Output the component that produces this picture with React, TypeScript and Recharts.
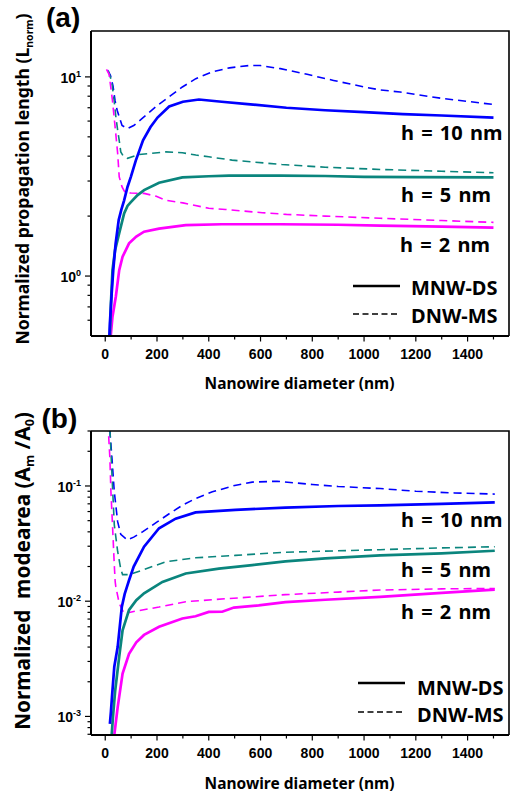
import React from 'react';
import { LineChart, Line, XAxis, YAxis } from 'recharts';

// ---------- Panel (a): normalized propagation length ----------
const aBlueSolidD = [16, 18, 25, 31, 40, 52, 62, 73, 86, 99, 118, 146, 175, 202, 247, 300, 362, 450, 550, 700, 850, 1000, 1150, 1300, 1500];
const aBlueSolidV = [0.5, 0.58, 0.82, 1.07, 1.45, 1.91, 2.15, 2.4, 2.8, 3.15, 3.8, 4.8, 5.6, 6.25, 7.1, 7.5, 7.7, 7.5, 7.3, 7.0, 6.8, 6.65, 6.5, 6.4, 6.25];
const aBlueDashD = [9, 20, 30, 38, 46, 54, 65, 86, 110, 144, 202, 250, 298, 350, 414, 480, 555, 600, 677, 780, 882, 1000, 1062, 1139, 1300, 1500];
const aBlueDashV = [10.8, 10.2, 9.0, 7.6, 6.8, 6.3, 5.7, 5.5, 5.7, 6.2, 7.2, 8.0, 8.9, 9.8, 10.6, 11.1, 11.4, 11.4, 11.0, 10.3, 9.6, 8.9, 8.6, 8.4, 7.8, 7.27];
const aTealSolidD = [18, 22, 28, 38, 54, 73, 86, 99, 125, 150, 208, 298, 400, 478, 677, 850, 1000, 1200, 1500];
const aTealSolidV = [0.5, 0.73, 1.07, 1.35, 1.64, 2.06, 2.25, 2.35, 2.55, 2.7, 2.94, 3.13, 3.17, 3.19, 3.19, 3.18, 3.15, 3.14, 3.13];
const aTealDashD = [12, 25, 35, 41, 48, 54, 60, 70, 86, 131, 234, 298, 350, 400, 490, 683, 850, 1062, 1300, 1500];
const aTealDashV = [10.7, 9.5, 7.5, 6.3, 5.4, 4.8, 4.2, 4.0, 3.9, 4.08, 4.2, 4.16, 4.05, 3.97, 3.82, 3.63, 3.52, 3.43, 3.36, 3.3];
const aPinkSolidD = [20, 28, 41, 54, 67, 92, 120, 150, 208, 311, 450, 677, 900, 1062, 1300, 1500];
const aPinkSolidV = [0.48, 0.625, 0.79, 1.07, 1.25, 1.46, 1.58, 1.67, 1.73, 1.8, 1.82, 1.82, 1.81, 1.79, 1.77, 1.75];
const aPinkDashD = [5, 15, 28, 40, 48, 54, 65, 77, 100, 150, 195, 235, 300, 400, 465, 607, 700, 850, 1062, 1300, 1500];
const aPinkDashV = [10.9, 10.3, 7.6, 5.3, 4.13, 3.15, 2.8, 2.62, 2.61, 2.6, 2.52, 2.4, 2.33, 2.19, 2.16, 2.08, 2.04, 2.0, 1.95, 1.9, 1.86];

// ---------- Panel (b): normalized mode area ----------
const bBlueSolidD = [18, 22, 26, 35, 48, 64, 75, 86, 92, 110, 150, 208, 272, 349, 503, 696, 900, 1062, 1300, 1505];
const bBlueSolidV = [8.6e-4, 1.1e-3, 1.47e-3, 2.7e-3, 4.0e-3, 8.9e-3, 0.0115, 0.0138, 0.0152, 0.02, 0.0297, 0.043, 0.052, 0.059, 0.062, 0.065, 0.067, 0.068, 0.07, 0.072];
const bBlueDashD = [17, 19, 26, 35, 48, 60, 86, 110, 144, 202, 250, 298, 350, 414, 500, 568, 664, 800, 900, 1062, 1200, 1350, 1505];
const bBlueDashV = [0.4, 0.28, 0.174, 0.089, 0.049, 0.038, 0.034, 0.036, 0.04, 0.049, 0.058, 0.068, 0.078, 0.089, 0.101, 0.108, 0.11, 0.103, 0.099, 0.095, 0.09, 0.087, 0.085];
const bTealSolidD = [24, 30, 38.5, 54, 67, 92, 120, 150, 221, 311, 439, 568, 696, 850, 1062, 1300, 1505];
const bTealSolidV = [6.5e-4, 1.0e-3, 1.68e-3, 3.3e-3, 5.6e-3, 8.4e-3, 0.0102, 0.0117, 0.0147, 0.0174, 0.0192, 0.0206, 0.0222, 0.0235, 0.025, 0.026, 0.0274];
const bTealDashD = [15, 20, 28, 35, 48, 60, 67, 92, 144, 234, 349, 503, 683, 850, 1062, 1300, 1505];
const bTealDashV = [0.4, 0.25, 0.1, 0.046, 0.027, 0.019, 0.017, 0.017, 0.0186, 0.022, 0.0238, 0.025, 0.0265, 0.0272, 0.028, 0.029, 0.0297];
const bPinkSolidD = [33, 35, 48, 67, 92, 120, 150, 208, 298, 349, 400, 452, 497, 593, 696, 850, 1062, 1300, 1505];
const bPinkSolidV = [6.0e-4, 6.9e-4, 1.2e-3, 2.35e-3, 3.5e-3, 4.4e-3, 5.1e-3, 6.0e-3, 7.08e-3, 7.4e-3, 8.07e-3, 8.1e-3, 8.8e-3, 9.2e-3, 9.8e-3, 0.0103, 0.0109, 0.0118, 0.0126];
const bPinkDashD = [8, 13, 18, 22, 28, 35, 38.5, 41, 54, 73, 118, 208, 311, 465, 696, 900, 1062, 1300, 1505];
const bPinkDashV = [0.35, 0.277, 0.174, 0.089, 0.046, 0.0206, 0.0147, 0.0133, 0.0096, 0.0078, 0.0082, 0.0089, 0.0099, 0.0105, 0.0114, 0.012, 0.0125, 0.0128, 0.0129];

// ---------- Axes ----------
const xTicks = [0, 100, 200, 300, 400, 500, 600, 700, 800, 900, 1000, 1100, 1200, 1300, 1400, 1500];
const aYTicks = [0.6, 0.7, 0.8, 0.9, 1, 2, 3, 4, 5, 6, 7, 8, 9, 10];
const bYTicks = [7e-4, 8e-4, 9e-4, 1e-3, 2e-3, 3e-3, 4e-3, 5e-3, 6e-3, 7e-3, 8e-3, 9e-3, 0.01, 0.02, 0.03, 0.04, 0.05, 0.06, 0.07, 0.08, 0.09, 0.1, 0.2, 0.3];
const aYDomain = [0.5, 17];
const bYDomain = [6.9e-4, 0.3];
const xDomain = [-55, 1560];

const BLUE = '#0000ff';
const TEAL = '#0a857d';
const PINK = '#ff00ff';
const TXT = "'Noto Sans', 'Open Sans', sans-serif";
const TICKF = "'Liberation Sans', Arial, sans-serif";

const zip = (d: number[], v: number[]) => d.map((x, i) => ({ d: x, v: v[i] }));

const aSeries = [
  { data: zip(aBlueDashD, aBlueDashV), color: BLUE, dashed: true },
  { data: zip(aTealDashD, aTealDashV), color: TEAL, dashed: true },
  { data: zip(aPinkDashD, aPinkDashV), color: PINK, dashed: true },
  { data: zip(aPinkSolidD, aPinkSolidV), color: PINK, dashed: false },
  { data: zip(aTealSolidD, aTealSolidV), color: TEAL, dashed: false },
  { data: zip(aBlueSolidD, aBlueSolidV), color: BLUE, dashed: false },
];
const bSeries = [
  { data: zip(bBlueDashD, bBlueDashV), color: BLUE, dashed: true },
  { data: zip(bTealDashD, bTealDashV), color: TEAL, dashed: true },
  { data: zip(bPinkDashD, bPinkDashV), color: PINK, dashed: true },
  { data: zip(bPinkSolidD, bPinkSolidV), color: PINK, dashed: false },
  { data: zip(bTealSolidD, bTealSolidV), color: TEAL, dashed: false },
  { data: zip(bBlueSolidD, bBlueSolidV), color: BLUE, dashed: false },
];

const XTick = (p: any) => {
  const { x, y, payload } = p;
  const v = payload.value;
  const major = v % 200 === 0;
  return (
    <g>
      <line x1={x} x2={x} y1={y} y2={y + (major ? 5.5 : 3.5)} stroke="#000" strokeWidth={1.2} />
      {major && (
        <text x={x} y={y + 22.5} textAnchor="middle" fontFamily={TICKF} fontWeight="bold" fontSize={14} fill="#000">
          {v}
        </text>
      )}
    </g>
  );
};

const YTick = (p: any) => {
  const { x, y, payload } = p;
  const v = payload.value;
  const lg = Math.log10(v);
  const e = Math.round(lg);
  const major = Math.abs(lg - e) < 1e-6;
  return (
    <g>
      <line x1={x - (major ? 6 : 3.5)} x2={x} y1={y} y2={y} stroke="#000" strokeWidth={1.2} />
      {major && (
        <text x={x - 10} y={y + 6} textAnchor="end" fontFamily={TICKF} fontWeight="bold" fontSize={14} fill="#000">
          10<tspan dy={-6} fontSize={9}>{String(e)}</tspan>
        </text>
      )}
    </g>
  );
};

function Panel({ top, series, yDomain, yTicks, marginTop, xAxisHeight }: any) {
  return (
    <div style={{ position: 'absolute', left: 0, top, width: 513, height: 398 }}>
      <LineChart width={513} height={398} margin={{ top: marginTop, right: 4, bottom: 0, left: 0 }}>
        <XAxis
          dataKey="d"
          type="number"
          domain={xDomain}
          allowDataOverflow
          ticks={xTicks}
          interval={0}
          tick={(p: any) => <XTick {...p} />}
          tickLine={false}
          tickSize={0}
          tickMargin={0}
          height={xAxisHeight}
          axisLine={{ stroke: '#000', strokeWidth: 2 }}
        />
        <YAxis
          type="number"
          scale="log"
          domain={yDomain}
          allowDataOverflow
          ticks={yTicks}
          interval={0}
          tick={(p: any) => <YTick {...p} />}
          tickLine={false}
          tickSize={0}
          tickMargin={0}
          width={91}
          axisLine={{ stroke: '#000', strokeWidth: 2 }}
        />
        {series.map((s: any, i: number) => (
          <Line
            key={i}
            data={s.data}
            dataKey="v"
            type="linear"
            stroke={s.color}
            strokeWidth={s.dashed ? 1.6 : 2.7}
            strokeDasharray={s.dashed ? '8 5' : undefined}
            dot={false}
            activeDot={false}
            isAnimationActive={false}
          />
        ))}
      </LineChart>
    </div>
  );
}

export default function App() {
  const t = { fontFamily: TXT, fontWeight: 'bold' as const, fill: '#000' };
  return (
    <div style={{ position: 'absolute', left: 0, top: 0, width: 513, height: 796, background: '#fff' }}>
      <Panel top={0} series={aSeries} yDomain={aYDomain} yTicks={aYTicks} marginTop={31} xAxisHeight={62} />
      <Panel top={398} series={bSeries} yDomain={bYDomain} yTicks={bYTicks} marginTop={33} xAxisHeight={61} />
      <svg width={513} height={796} style={{ position: 'absolute', left: 0, top: 0, pointerEvents: 'none' }}>
        {/* plot frames (top / right borders) */}
        <polyline points="91,31 509,31 509,336" fill="none" stroke="#000" strokeWidth={1.6} />
        <polyline points="91,431 509,431 509,735" fill="none" stroke="#000" strokeWidth={1.6} />

        {/* titles */}
        <text x={46} y={26.5} fontFamily={TICKF} fontWeight="bold" fontSize={28} fill="#000">(a)</text>
        <text x={41.5} y={428} fontFamily={TICKF} fontWeight="bold" fontSize={28} fill="#000">(b)</text>

        {/* axis titles */}
        <text x={299.5} y={389} textAnchor="middle" fontSize={15.5} {...t}>Nanowire diameter (nm)</text>
        <text x={299.5} y={789} textAnchor="middle" fontSize={15.5} {...t}>Nanowire diameter (nm)</text>
        <text transform="translate(29,179) rotate(-90)" textAnchor="middle" fontSize={17.6} {...t}>
          Normalized propagation length (L<tspan dy={4} fontSize={10.5}>norm</tspan><tspan dy={-4}>)</tspan>
        </text>
        <text transform="translate(30,571) rotate(-90)" textAnchor="middle" fontSize={20.8} style={{ whiteSpace: 'pre' }} {...t}>
          {'Normalized  modearea (A'}<tspan dy={4} fontSize={12.5}>m</tspan><tspan dy={-4}>{' /A'}</tspan><tspan dy={4} fontSize={12.5}>0</tspan><tspan dy={-4}>)</tspan>
        </text>

        {/* annotations (a) */}
        <text x={401} y={140} fontSize={20} wordSpacing={2} {...t}>h = 10 nm</text>
        <text x={401} y={201.5} fontSize={20} wordSpacing={2} {...t}>h = 5 nm</text>
        <text x={400} y={251.5} fontSize={20} wordSpacing={2} {...t}>h = 2 nm</text>
        {/* annotations (b) */}
        <text x={401} y={527} fontSize={20} wordSpacing={2} {...t}>h = 10 nm</text>
        <text x={401} y={576.5} fontSize={20} wordSpacing={2} {...t}>h = 5 nm</text>
        <text x={401} y={619} fontSize={20} wordSpacing={2} {...t}>h = 2 nm</text>

        {/* legend (a) */}
        <line x1={353} x2={400} y1={286} y2={286} stroke="#000" strokeWidth={2.7} />
        <line x1={353} x2={400} y1={314} y2={314} stroke="#000" strokeWidth={1.6} strokeDasharray="6 3.5" />
        <text x={411} y={295} fontSize={20} {...t}>MNW-DS</text>
        <text x={411} y={323} fontSize={20} {...t}>DNW-MS</text>
        {/* legend (b) */}
        <line x1={358} x2={405} y1={683} y2={683} stroke="#000" strokeWidth={2.7} />
        <line x1={358} x2={405} y1={712} y2={712} stroke="#000" strokeWidth={1.6} strokeDasharray="6 3.5" />
        <text x={417} y={695} fontSize={20} {...t}>MNW-DS</text>
        <text x={417} y={721.5} fontSize={20} {...t}>DNW-MS</text>
      </svg>
    </div>
  );
}
